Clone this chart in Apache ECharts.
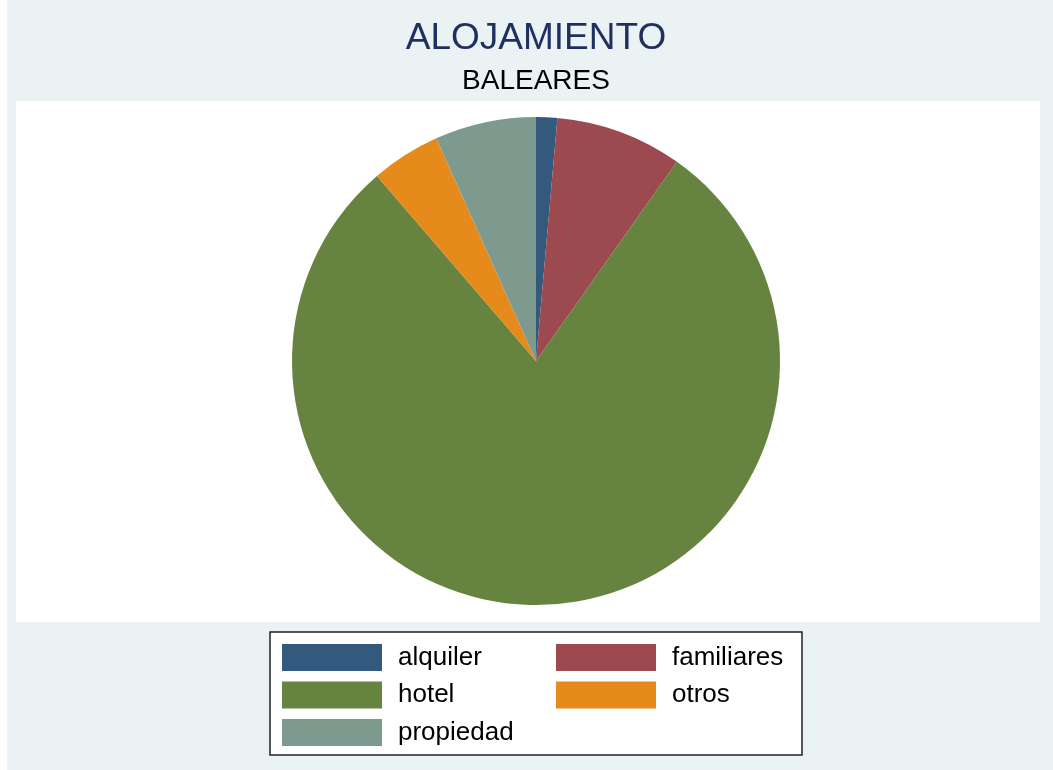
<!DOCTYPE html>
<html>
<head>
<meta charset="utf-8">
<script src="https://cdn.jsdelivr.net/npm/echarts@6/dist/echarts.min.js"></script>
<style>
  html, body { margin: 0; padding: 0; background: #ffffff; }
  #alojamientoPie { width: 1053px; height: 770px; }
</style>
</head>
<body>
<div id="alojamientoPie"></div>
<script>
// categories and shares (%)
const categories = ['alquiler', 'familiares', 'hotel', 'otros', 'propiedad'];
const shares = [1.4, 8.4, 78.9, 4.6, 6.7];
const colorArr = ['#335a7c', '#9c4a50', '#66843f', '#e68b1b', '#7e9a8f'];

let chart = echarts.init(document.getElementById('alojamientoPie'));

let seriesData = [];
for (let i = 0; i < categories.length; i++) {
    seriesData.push({
        name: categories[i],
        value: shares[i],
        itemStyle: { color: colorArr[i] }
    });
}

const legendText = {
    fontFamily: 'Liberation Sans, Arial, sans-serif',
    fontSize: 26,
    color: '#000000',
    padding: [0, 0, 0, 11]
};

const option = {
    backgroundColor: '#eaf2f3',
    animation: false,
    graphic: [
        { type: 'rect', shape: { x: 0, y: 0, width: 7, height: 770 }, style: { fill: '#ffffff' }, z: -10 },
        { type: 'rect', shape: { x: 16, y: 101, width: 1024, height: 521 }, style: { fill: '#ffffff' }, z: -10 },
        { type: 'rect', shape: { x: 270, y: 632, width: 532, height: 123 },
          style: { fill: '#ffffff', stroke: '#222222', lineWidth: 1.5 }, z: -5 },
        { type: 'text', x: 536, y: 39,
          style: { text: 'ALOJAMIENTO', fill: '#1f2f5f', font: '37px "Liberation Sans", Arial, sans-serif',
                   textAlign: 'center', textVerticalAlign: 'middle' } },
        { type: 'text', x: 536, y: 81,
          style: { text: 'BALEARES', fill: '#000000', font: '28px "Liberation Sans", Arial, sans-serif',
                   textAlign: 'center', textVerticalAlign: 'middle' } }
    ],
    legend: [
        {
            data: ['alquiler', 'hotel', 'propiedad'],
            orient: 'vertical',
            left: 282,
            top: 644,
            padding: 0,
            itemWidth: 100,
            itemHeight: 27,
            itemGap: 10.5,
            icon: 'rect',
            selectedMode: false,
            textStyle: legendText
        },
        {
            data: ['familiares', 'otros'],
            orient: 'vertical',
            left: 556,
            top: 644,
            padding: 0,
            itemWidth: 100,
            itemHeight: 27,
            itemGap: 10.5,
            icon: 'rect',
            selectedMode: false,
            textStyle: legendText
        }
    ],
    series: [
        {
            name: 'ALOJAMIENTO',
            type: 'pie',
            center: [536, 361],
            radius: 244,
            startAngle: 90,
            clockwise: true,
            label: { show: false },
            labelLine: { show: false },
            emphasis: { disabled: true },
            itemStyle: { borderWidth: 0 },
            data: seriesData
        }
    ]
};

chart.setOption(option);
</script>
</body>
</html>
